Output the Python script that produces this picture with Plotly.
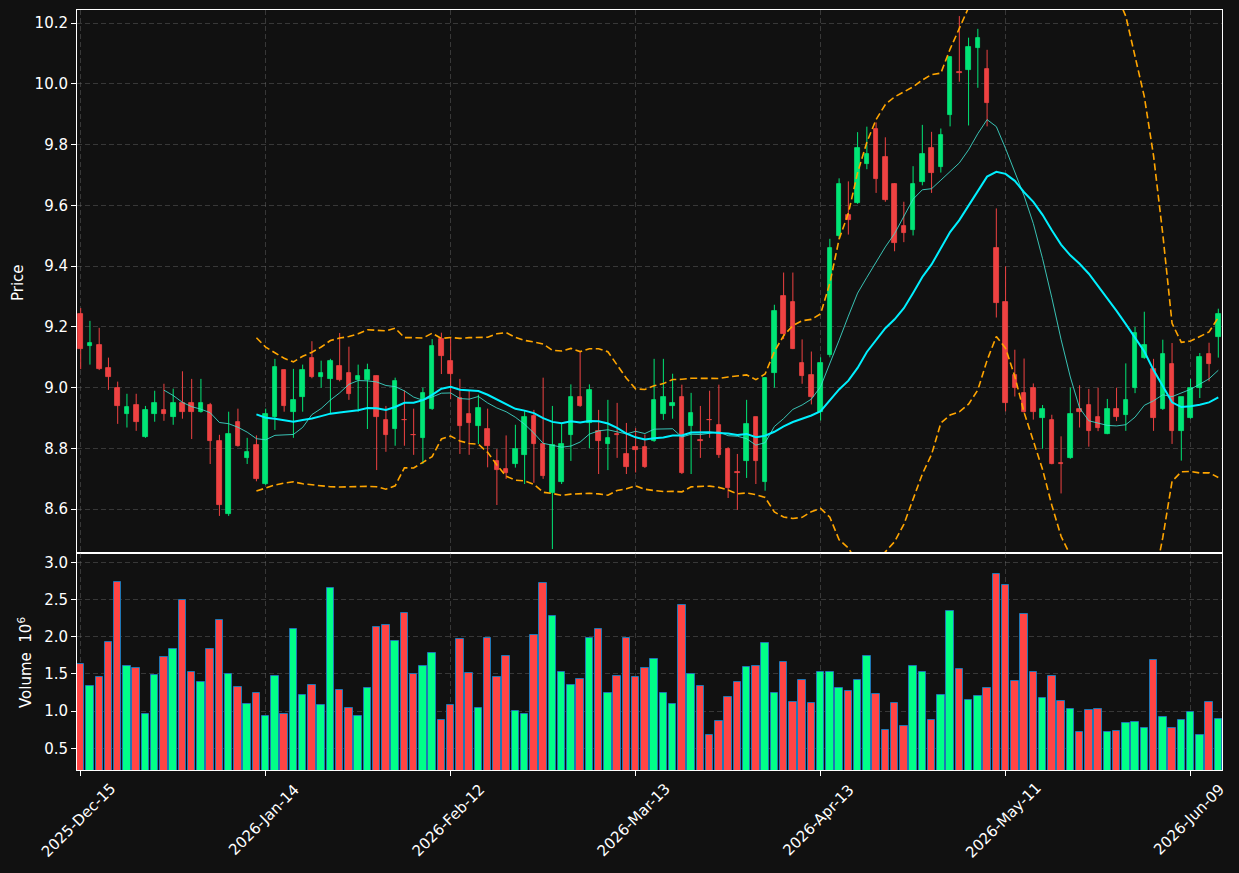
import pandas as pd
import plotly.graph_objects as go

# ---------------- data ----------------
open_ = [9.242, 9.137, 9.139, 9.064, 8.999, 8.913, 8.942, 8.837, 8.913, 8.925,
         8.903, 8.951, 8.951, 8.920, 8.942, 8.826, 8.583, 8.886, 8.768, 8.810,
         8.682, 8.903, 9.057, 8.920, 8.969, 9.097, 9.035, 9.028, 9.073, 9.047,
         9.027, 9.027, 9.037, 8.895, 8.864, 8.895, 8.845, 8.834, 8.929, 9.161,
         9.087, 8.966, 8.914, 8.873, 8.865, 8.760, 8.731, 8.748, 8.778, 8.906,
         8.814, 8.654, 8.691, 8.844, 8.971, 8.883, 8.856, 8.814, 8.846, 8.781,
         8.806, 8.806, 8.824, 8.913, 8.939, 8.971, 8.873, 8.827, 8.895, 8.876,
         8.798, 8.721, 8.758, 8.902, 8.689, 9.048, 9.301, 9.281, 9.080, 9.041,
         8.920, 9.108, 9.500, 9.570, 9.609, 9.737, 9.852, 9.760, 9.671, 9.531,
         9.520, 9.678, 9.789, 9.727, 9.899, 10.039, 10.047, 10.119, 10.049, 9.460,
         9.282, 9.041, 8.982, 9.000, 8.901, 8.893, 8.752, 8.768, 8.931, 8.943,
         8.902, 8.849, 8.931, 8.910, 8.998, 9.098, 9.060, 8.929, 9.079, 8.857,
         8.900, 8.999, 9.110, 9.167]
high = [9.262, 9.220, 9.197, 9.099, 9.020, 8.980, 8.980, 8.940, 8.990, 9.013,
        8.997, 9.054, 9.029, 9.029, 8.950, 8.845, 8.921, 8.931, 8.835, 8.843,
        8.931, 9.095, 9.059, 9.062, 9.076, 9.153, 9.089, 9.095, 9.180, 9.135,
        9.076, 9.079, 9.040, 8.940, 9.033, 8.991, 8.931, 9.000, 9.160, 9.181,
        9.164, 9.029, 8.989, 8.977, 8.931, 8.798, 8.843, 8.878, 8.925, 8.927,
        9.033, 8.940, 8.884, 9.011, 9.120, 9.011, 8.927, 8.960, 8.950, 8.884,
        8.867, 8.846, 9.095, 9.095, 9.046, 9.010, 8.983, 8.940, 8.990, 9.010,
        8.804, 8.782, 8.960, 8.904, 9.035, 9.273, 9.379, 9.379, 9.159, 9.119,
        9.100, 9.490, 9.689, 9.679, 9.841, 9.859, 9.873, 9.824, 9.673, 9.612,
        9.729, 9.865, 9.842, 9.853, 10.090, 10.223, 10.152, 10.181, 10.112, 9.590,
        9.399, 9.125, 9.096, 9.014, 8.943, 8.911, 8.840, 9.000, 9.008, 8.996,
        9.000, 8.963, 9.000, 9.080, 9.200, 9.250, 9.095, 9.158, 9.147, 8.969,
        9.029, 9.114, 9.148, 9.260]
low = [9.061, 9.076, 9.058, 8.993, 8.881, 8.869, 8.858, 8.835, 8.888, 8.891,
       8.878, 8.898, 8.831, 8.918, 8.749, 8.578, 8.578, 8.806, 8.749, 8.692,
       8.680, 8.861, 8.921, 8.835, 8.921, 9.031, 9.000, 8.914, 9.021, 8.960,
       8.921, 8.864, 8.729, 8.789, 8.809, 8.809, 8.779, 8.749, 8.927, 9.045,
       8.962, 8.782, 8.779, 8.815, 8.738, 8.614, 8.700, 8.737, 8.683, 8.687,
       8.700, 8.469, 8.683, 8.759, 8.937, 8.801, 8.716, 8.729, 8.769, 8.716,
       8.721, 8.736, 8.822, 8.894, 8.898, 8.716, 8.716, 8.769, 8.835, 8.769,
       8.637, 8.598, 8.703, 8.683, 8.661, 9.000, 9.160, 9.127, 9.013, 8.945,
       8.892, 9.100, 9.490, 9.504, 9.605, 9.719, 9.641, 9.612, 9.449, 9.479,
       9.501, 9.666, 9.641, 9.708, 9.860, 10.007, 9.863, 9.987, 9.860, 9.231,
       8.922, 8.971, 8.918, 8.895, 8.799, 8.748, 8.652, 8.766, 8.869, 8.806,
       8.857, 8.847, 8.890, 8.858, 8.982, 9.095, 8.858, 8.927, 8.815, 8.760,
       8.898, 8.966, 9.021, 9.099]
close = [9.127, 9.146, 9.061, 9.035, 8.939, 8.935, 8.887, 8.925, 8.951, 8.913,
         8.951, 8.920, 8.920, 8.951, 8.824, 8.613, 8.847, 8.808, 8.790, 8.698,
         8.914, 9.067, 8.939, 8.961, 9.057, 9.034, 9.047, 9.087, 9.027, 8.979,
         9.037, 9.057, 8.903, 8.844, 9.021, 8.893, 8.843, 8.981, 9.136, 9.104,
         9.045, 8.873, 8.883, 8.932, 8.808, 8.728, 8.719, 8.799, 8.905, 8.814,
         8.709, 8.811, 8.816, 8.971, 8.939, 8.991, 8.824, 8.836, 8.844, 8.738,
         8.794, 8.738, 8.961, 8.971, 8.951, 8.719, 8.916, 8.825, 8.893, 8.777,
         8.670, 8.719, 8.882, 8.758, 9.031, 9.252, 9.177, 9.127, 9.038, 8.969,
         9.080, 9.460, 9.671, 9.551, 9.789, 9.769, 9.688, 9.618, 9.477, 9.510,
         9.671, 9.769, 9.707, 9.832, 10.088, 10.037, 10.121, 10.150, 9.938, 9.279,
         8.951, 9.000, 8.920, 8.920, 8.931, 8.750, 8.750, 8.912, 8.920, 8.857,
         8.869, 8.931, 8.902, 8.961, 9.179, 9.139, 8.900, 9.110, 8.857, 8.969,
         9.000, 9.100, 9.078, 9.242]
volume_m = [1.629, 1.342, 1.454, 1.925, 2.731, 1.611, 1.575, 0.966, 1.490, 1.723,
            1.831, 2.498, 1.522, 1.387, 1.831, 2.220, 1.495, 1.320, 1.100, 1.239,
            0.930, 1.477, 0.966, 2.099, 1.221, 1.347, 1.078, 2.651, 1.280, 1.038,
            0.930, 1.306, 2.126, 2.153, 1.938, 2.315, 1.495, 1.611, 1.777, 0.876,
            1.078, 1.965, 1.508, 1.038, 1.978, 1.454, 1.737, 0.997, 0.966, 2.019,
            2.718, 2.274, 1.522, 1.347, 1.427, 1.978, 2.099, 1.239, 1.468, 1.978,
            1.454, 1.575, 1.696, 1.239, 1.100, 2.422, 1.495, 1.333, 0.675, 0.863,
            1.185, 1.387, 1.589, 1.602, 1.911, 1.239, 1.656, 1.118, 1.414, 1.105,
            1.522, 1.522, 1.306, 1.266, 1.414, 1.737, 1.226, 0.742, 1.105, 0.796,
            1.602, 1.522, 0.876, 1.212, 2.341, 1.562, 1.145, 1.199, 1.306, 2.839,
            2.691, 1.400, 2.301, 1.522, 1.172, 1.468, 1.132, 1.024, 0.715, 1.011,
            1.024, 0.715, 0.728, 0.836, 0.849, 0.769, 1.683, 0.917, 0.769, 0.876,
            0.984, 0.675, 1.118, 0.890]
tick_positions = [0, 20, 40, 60, 80, 100, 120]
tick_labels = ["2025-Dec-15", "2026-Jan-14", "2026-Feb-12", "2026-Mar-13",
               "2026-Apr-13", "2026-May-11", "2026-Jun-09"]
price_ticks = [8.6, 8.8, 9.0, 9.2, 9.4, 9.6, 9.8, 10.0, 10.2]
volume_ticks = [0.5, 1.0, 1.5, 2.0, 2.5, 3.0]

# ---------------- styles ----------------
UP, DOWN = "#00E676", "#EF4242"
VUP, VDOWN = "#00FF88", "#FF4444"
BG = "#111111"
GRID = "rgba(128,128,128,0.35)"
FONT = "DejaVu Sans"
FS = 15

idx = list(range(len(close)))
up = [c >= o for o, c in zip(open_, close)]

s = pd.Series(close)
ma10 = s.rolling(10).mean()
ma20 = s.rolling(20).mean()
sd20 = s.rolling(20).std(ddof=0)
bb_up = ma20 + 2 * sd20
bb_lo = ma20 - 2 * sd20


def wick_xy(flag):
    xs, ys = [], []
    for i in idx:
        if up[i] == flag:
            xs += [i, i, None]
            ys += [low[i], high[i], None]
    return xs, ys


fig = go.Figure()

# candle bodies
body_colors = [UP if u else DOWN for u in up]
fig.add_trace(go.Bar(
    x=idx, y=[abs(c - o) for o, c in zip(open_, close)],
    base=[min(o, c) for o, c in zip(open_, close)],
    width=0.5, marker=dict(color=body_colors, line=dict(color=body_colors, width=0.8)),
    xaxis="x", yaxis="y", showlegend=False, hoverinfo="skip"))

# wicks
for flag, col in [(True, UP), (False, DOWN)]:
    wx, wy = wick_xy(flag)
    fig.add_trace(go.Scatter(x=wx, y=wy, mode="lines", line=dict(color=col, width=1),
                             xaxis="x", yaxis="y", showlegend=False, hoverinfo="skip"))

# moving averages and bands
fig.add_trace(go.Scatter(x=idx, y=ma10, mode="lines",
                         line=dict(color="rgba(64,224,208,0.85)", width=1),
                         xaxis="x", yaxis="y", showlegend=False))
fig.add_trace(go.Scatter(x=idx, y=ma20, mode="lines",
                         line=dict(color="#00F0FF", width=2),
                         xaxis="x", yaxis="y", showlegend=False))
for band in (bb_up, bb_lo):
    fig.add_trace(go.Scatter(x=idx, y=band, mode="lines",
                             line=dict(color="#FFA500", width=1.6, dash="7px,3.5px"),
                             xaxis="x", yaxis="y", showlegend=False))

# volume
fig.add_trace(go.Bar(
    x=idx, y=volume_m, width=0.8,
    marker=dict(color=[VUP if u else VDOWN for u in up], line=dict(color="#1f77b4", width=1)),
    xaxis="x2", yaxis="y2", showlegend=False))

split = 217 / 760
common_axis = dict(showline=True, mirror=True, linecolor="white", linewidth=1,
                   showgrid=True, gridcolor=GRID, gridwidth=0.8, griddash="5px,3px",
                   zeroline=False, tickcolor="white",
                   tickfont=dict(color="white", size=FS, family=FONT))

fig.update_layout(
    width=1239, height=873,
    margin=dict(l=77, r=17, t=10, b=103),
    paper_bgcolor=BG, plot_bgcolor=BG,
    barmode="overlay", bargap=0,
    font=dict(family=FONT, color="white", size=FS),
    xaxis=dict(domain=[0, 1], anchor="y", range=[-0.4, 123.4], tickvals=tick_positions,
               showticklabels=False, ticks="", **common_axis),
    xaxis2=dict(domain=[0, 1], anchor="y2", range=[-0.4, 123.4], matches="x",
                tickvals=tick_positions, showticklabels=False,
                ticks="outside", ticklen=5, tickwidth=1, **common_axis),
    yaxis=dict(domain=[split, 1], anchor="x", range=[8.456, 10.243], tickvals=price_ticks,
               tickformat=".1f", ticks="outside", ticklen=5, tickwidth=1, **common_axis),
    yaxis2=dict(domain=[0, split], anchor="x2", range=[0.21, 3.125], tickvals=volume_ticks,
                tickformat=".1f", ticks="outside", ticklen=5, tickwidth=1, **common_axis),
)

annotations = []
for pos, lab in zip(tick_positions, tick_labels):
    annotations.append(dict(x=pos - 0.2, y=-50 / 760, xref="x2", yref="paper", text=lab,
                            textangle=-45, showarrow=False, xanchor="center", yanchor="middle",
                            font=dict(color="white", size=FS, family=FONT)))
annotations.append(dict(x=-59 / 1145, y=(770 - 283) / 760, xref="paper", yref="paper",
                        text="Price", textangle=-90, showarrow=False,
                        xanchor="center", yanchor="middle",
                        font=dict(color="white", size=FS, family=FONT)))
annotations.append(dict(x=-52 / 1145, y=(770 - 662) / 760, xref="paper", yref="paper",
                        text="Volume  10<sup>6</sup>", textangle=-90, showarrow=False,
                        xanchor="center", yanchor="middle",
                        font=dict(color="white", size=FS, family=FONT)))
fig.update_layout(annotations=annotations)

fig.write_html("out.html")
